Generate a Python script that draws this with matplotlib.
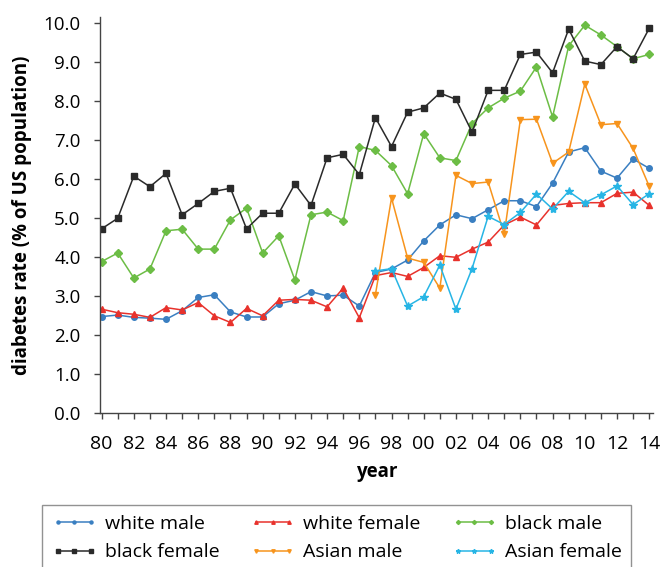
import matplotlib
matplotlib.use("Agg")
import matplotlib.pyplot as plt

# === Data ===
years = list(range(1980, 2015))
asian_years = list(range(1997, 2015))

white_male = [2.48, 2.52, 2.46, 2.44, 2.41, 2.63, 2.97, 3.04, 2.60, 2.47, 2.47, 2.81,
              2.90, 3.12, 3.01, 3.03, 2.75, 3.61, 3.70, 3.93, 4.42, 4.83, 5.09, 4.99,
              5.22, 5.45, 5.45, 5.30, 5.90, 6.70, 6.81, 6.21, 6.03, 6.52, 6.28]
white_female = [2.67, 2.58, 2.54, 2.46, 2.71, 2.65, 2.84, 2.50, 2.33, 2.69, 2.50, 2.90,
                2.92, 2.90, 2.73, 3.21, 2.45, 3.53, 3.61, 3.51, 3.74, 4.04, 4.00, 4.21,
                4.39, 4.83, 5.03, 4.83, 5.33, 5.38, 5.40, 5.40, 5.64, 5.67, 5.33]
black_male = [3.89, 4.11, 3.47, 3.70, 4.68, 4.72, 4.21, 4.21, 4.96, 5.26, 4.11, 4.55,
              3.42, 5.09, 5.16, 4.94, 6.84, 6.74, 6.35, 5.63, 7.17, 6.55, 6.48, 7.43,
              7.83, 8.08, 8.26, 8.88, 7.60, 9.42, 9.95, 9.70, 9.40, 9.09, 9.20]
black_female = [4.73, 5.00, 6.08, 5.81, 6.15, 5.09, 5.38, 5.69, 5.77, 4.73, 5.13, 5.13,
                5.88, 5.33, 6.55, 6.64, 6.12, 7.58, 6.84, 7.72, 7.83, 8.21, 8.05, 7.21,
                8.28, 8.28, 9.20, 9.26, 8.73, 9.85, 9.03, 8.94, 9.40, 9.09, 9.87]
asian_male = [3.04, 5.52, 3.98, 3.87, 3.21, 6.10, 5.89, 5.93, 4.60, 7.53, 7.54, 6.41,
              6.70, 8.44, 7.40, 7.43, 6.79, 5.82]
asian_female = [3.65, 3.71, 2.75, 2.99, 3.80, 2.67, 3.71, 5.05, 4.84, 5.15, 5.62, 5.24,
                5.69, 5.40, 5.60, 5.83, 5.35, 5.63]

x_ticks = list(range(1980, 2015))
x_labels = [f"{y % 100:02d}" if y % 2 == 0 else "" for y in x_ticks]
y_ticks = [i * 1.0 for i in range(11)]

plt.rcParams["font.family"] = ["Open Sans", "DejaVu Sans"]

fig = plt.figure(figsize=(6.63, 5.67), dpi=100)
ax = fig.add_axes([0.1508, 0.271, 0.834, 0.699])

series = [
    ("white male", years, white_male, "#3a7fc1", "o", 4.0),
    ("white female", years, white_female, "#e8322c", "^", 4.5),
    ("black male", years, black_male, "#6cbd45", "D", 3.8),
    ("black female", years, black_female, "#2a2a2a", "s", 4.0),
    ("Asian male", asian_years, asian_male, "#f7941d", "v", 4.5),
    ("Asian female", asian_years, asian_female, "#27b5e5", "*", 6.0),
]
handles = {}
for label, xs, ys, color, marker, ms in series:
    line, = ax.plot(xs, ys, color=color, marker=marker, markersize=ms,
                    linewidth=1.1, label=label)
    handles[label] = line

ax.set_xlim(1979.9, 2014.23)
ax.set_ylim(0, 10.16)
ax.set_xticks(x_ticks)
ax.set_xticklabels(x_labels, fontsize=14)
ax.set_yticks(y_ticks)
ax.set_yticklabels([f"{v:.1f}" for v in y_ticks], fontsize=13.5)
ax.tick_params(direction="out", length=4.5, width=1, color="#444444")
ax.tick_params(axis="x", pad=11)
ax.tick_params(axis="y", pad=9.5)

for side in ["top", "right"]:
    ax.spines[side].set_visible(False)
for side in ["left", "bottom"]:
    ax.spines[side].set_color("#444444")
    ax.spines[side].set_linewidth(1.0)

ax.set_xlabel("year", fontsize=13.5, fontweight="bold", labelpad=6.5)
ax.set_ylabel("diabetes rate (% of US population)", fontsize=13.5,
              fontweight="bold", labelpad=8)

# row-major order in a 3-column legend
order = ["white male", "black female", "white female", "Asian male",
         "black male", "Asian female"]
fig.legend([handles[k] for k in order], order,
           loc="upper left", bbox_to_anchor=(0.0637, 0.1093),
           borderaxespad=0, ncol=3, fontsize=14,
           frameon=True, fancybox=False, edgecolor="#777777",
           numpoints=3, handlelength=2.3, handletextpad=0.42,
           columnspacing=1.6, labelspacing=0.55, borderpad=0.5,
           markerscale=0.55)

fig.savefig("out.png", dpi=100)
